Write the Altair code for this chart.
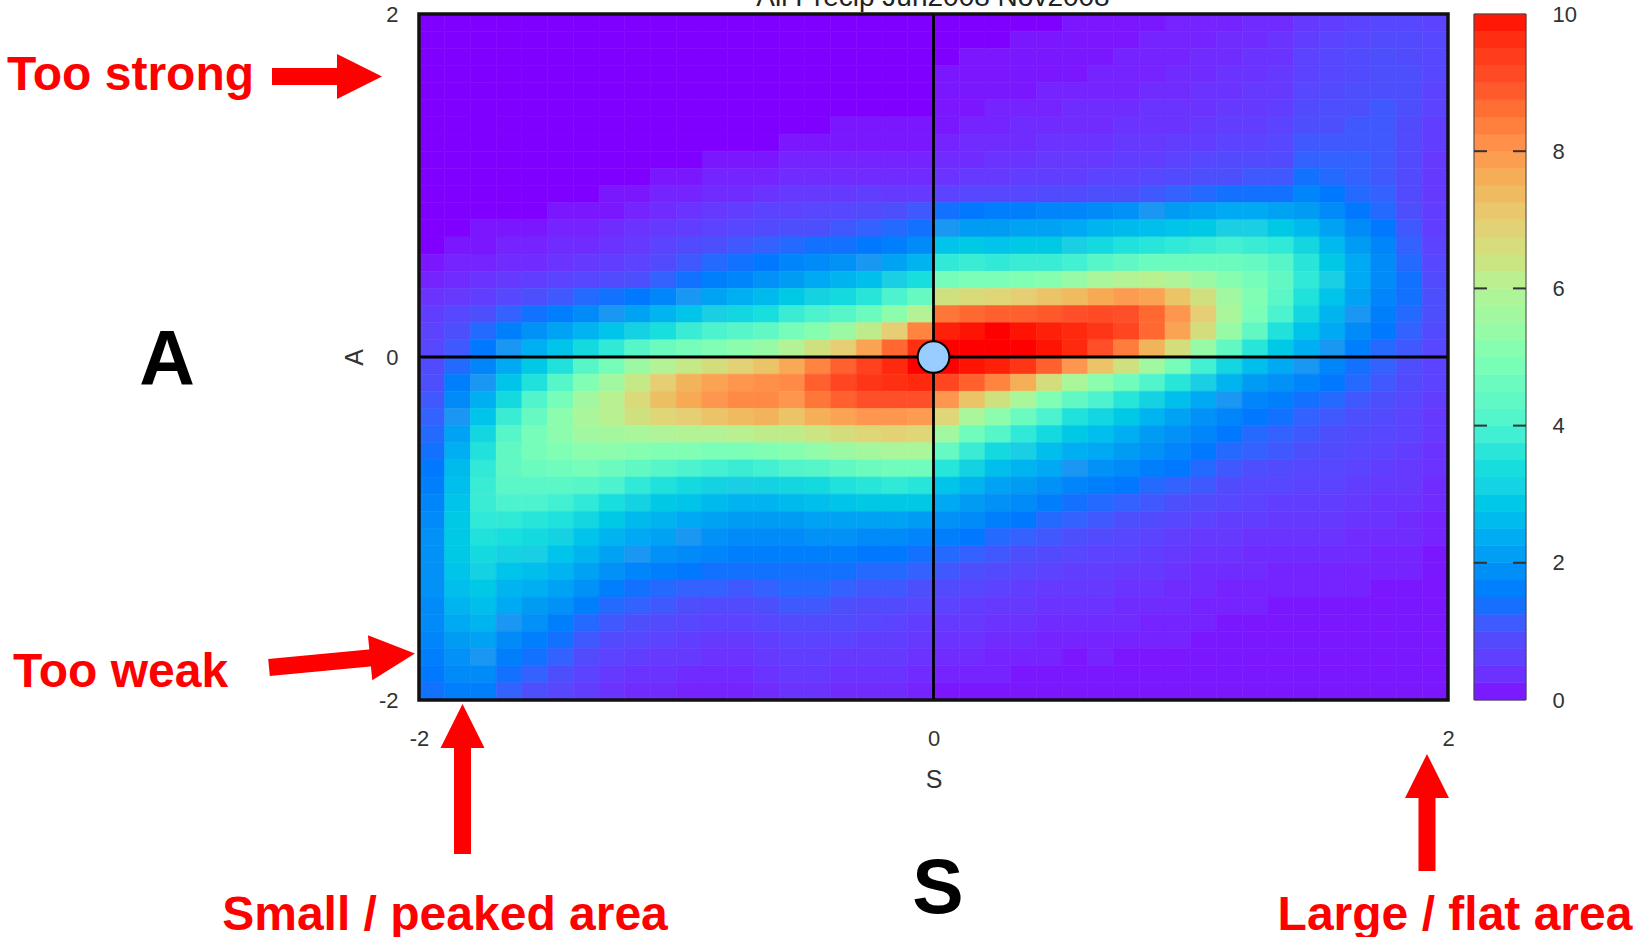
import altair as alt
import pandas as pd

# Grid edges of the S (structure) and A (amplitude) bins, 0.1 wide
S_EDGES = [round(-2 + 0.1 * k, 1) for k in range(41)]
A_EDGES = [round(2 - 0.1 * k, 1) for k in range(41)]

# Frequency per bin, one list per S column (S = -1.95 ... 1.95).
# upper_half: A = 1.95 down to 0.05 ; lower_half: A = -0.05 down to -1.95
upper_half = [
    [0,0,0,0,0,0,0,0,0,0,0,0,0,0,0.1,0.2,0.4,0.6,0.7,0.8],
    [0,0,0,0,0,0,0,0,0,0,0,0,0,0.1,0.2,0.3,0.5,0.8,1.0,1.1],
    [0,0,0,0,0,0,0,0,0,0,0,0,0.1,0.1,0.2,0.4,0.6,1.0,1.3,1.5],
    [0,0,0,0,0,0,0,0,0,0,0,0,0.1,0.2,0.3,0.5,0.8,1.2,1.6,2.0],
    [0,0,0,0,0,0,0,0,0,0,0,0,0.1,0.2,0.3,0.6,1.0,1.4,1.9,2.4],
    [0,0,0,0,0,0,0,0,0,0,0,0.1,0.2,0.3,0.4,0.7,1.1,1.6,2.2,2.8],
    [0,0,0,0,0,0,0,0,0,0,0,0.1,0.2,0.3,0.5,0.8,1.3,1.8,2.5,3.3],
    [0,0,0,0,0,0,0,0,0,0,0.1,0.1,0.3,0.4,0.6,0.9,1.4,2.0,2.8,3.7],
    [0,0,0,0,0,0,0,0,0,0,0.1,0.2,0.4,0.5,0.7,1.0,1.5,2.2,3.1,4.2],
    [0,0,0,0,0,0,0,0,0,0.1,0.2,0.3,0.5,0.7,0.9,1.2,1.7,2.5,3.4,4.6],
    [0,0,0,0,0,0,0,0,0,0.1,0.2,0.4,0.6,0.9,1.1,1.4,2.0,2.8,3.8,4.8],
    [0,0,0,0,0,0,0,0,0.1,0.2,0.3,0.5,0.7,1.0,1.3,1.6,2.2,3.0,4.0,5.0],
    [0,0,0,0,0,0,0,0,0.1,0.2,0.3,0.6,0.8,1.1,1.4,1.7,2.4,3.2,4.2,5.2],
    [0,0,0,0,0,0,0,0,0.1,0.2,0.4,0.7,0.9,1.2,1.5,1.9,2.6,3.4,4.4,5.4],
    [0,0,0,0,0,0,0,0.1,0.2,0.3,0.5,0.7,1.0,1.3,1.7,2.1,2.9,3.8,4.8,6.0],
    [0,0,0,0,0,0,0,0.1,0.2,0.3,0.5,0.8,1.0,1.4,1.8,2.3,3.1,4.0,5.1,6.5],
    [0,0,0,0,0,0,0.1,0.1,0.2,0.3,0.5,0.8,1.1,1.4,1.9,2.5,3.3,4.2,5.5,7.0],
    [0,0,0,0,0,0,0.1,0.1,0.2,0.3,0.6,0.9,1.2,1.5,2.0,2.7,3.6,4.6,6.2,7.8],
    [0,0,0,0,0,0,0.1,0.1,0.2,0.3,0.5,1.0,1.3,1.6,2.2,3.0,4.0,5.2,7.0,8.7],
    [0,0,0,0,0,0,0.1,0.1,0.2,0.3,0.5,1.1,1.4,1.8,2.5,3.4,4.5,6.0,8.3,9.6],
    [0,0,0,0.1,0.1,0.1,0.1,0.2,0.3,0.4,0.7,1.4,2.0,2.8,3.7,4.8,6.5,8.5,9.8,10.0],
    [0,0,0.1,0.1,0.1,0.1,0.2,0.3,0.3,0.5,0.8,1.5,2.1,2.9,3.8,4.9,6.7,8.7,9.9,10.0],
    [0,0,0.1,0.1,0.1,0.2,0.2,0.3,0.4,0.5,0.8,1.6,2.1,2.8,3.7,4.9,6.8,8.8,10.0,10.0],
    [0,0.1,0.1,0.1,0.1,0.2,0.3,0.3,0.4,0.6,0.8,1.6,2.2,2.9,3.8,5.0,7.0,8.8,9.9,10.0],
    [0,0.1,0.1,0.1,0.2,0.2,0.3,0.4,0.5,0.6,0.9,1.7,2.2,2.9,3.8,5.1,7.2,8.9,9.8,9.9],
    [0.1,0.1,0.1,0.1,0.2,0.3,0.3,0.4,0.5,0.6,0.9,1.7,2.3,3.0,3.9,5.4,7.4,9.0,9.7,9.7],
    [0.1,0.1,0.1,0.2,0.2,0.3,0.3,0.4,0.5,0.7,1.0,1.8,2.5,3.3,4.2,5.8,7.7,9.1,9.5,9.0],
    [0.1,0.1,0.2,0.2,0.2,0.3,0.4,0.5,0.6,0.7,1.0,1.9,2.6,3.5,4.4,6.0,7.9,9.0,9.2,8.4],
    [0.1,0.2,0.2,0.2,0.3,0.4,0.4,0.5,0.6,0.8,1.1,2.0,2.7,3.6,4.6,6.1,7.8,8.7,8.7,7.5],
    [0.2,0.2,0.2,0.3,0.3,0.4,0.4,0.6,0.7,0.9,1.2,2.1,2.8,3.7,4.6,5.9,7.2,8.0,7.8,6.6],
    [0.2,0.2,0.3,0.3,0.4,0.4,0.5,0.6,0.8,1.0,1.3,2.2,2.9,3.8,4.6,5.5,6.5,7.0,6.6,5.4],
    [0.2,0.3,0.3,0.4,0.4,0.5,0.6,0.7,0.9,1.0,1.4,2.3,3.0,3.9,4.6,5.1,5.6,5.8,5.4,4.4],
    [0.3,0.3,0.4,0.4,0.5,0.5,0.6,0.7,0.9,1.1,1.4,2.3,3.0,3.8,4.5,4.8,5.0,4.9,4.4,3.6],
    [0.3,0.4,0.4,0.5,0.5,0.6,0.7,0.8,0.9,1.1,1.4,2.2,2.9,3.7,4.2,4.4,4.3,4.0,3.5,2.9],
    [0.5,0.6,0.7,0.7,0.8,0.9,1.0,1.1,1.2,1.4,1.7,2.1,2.6,3.2,3.6,3.7,3.5,3.2,2.8,2.4],
    [0.6,0.7,0.8,0.8,0.9,1.0,1.0,1.1,1.2,1.3,1.5,1.8,2.2,2.6,2.9,3.0,2.8,2.5,2.3,2.0],
    [0.7,0.8,0.9,0.9,1.0,1.0,1.1,1.1,1.2,1.2,1.3,1.5,1.8,2.1,2.3,2.3,2.2,2.0,1.8,1.6],
    [0.8,0.9,1.0,1.0,1.0,1.1,1.1,1.1,1.1,1.1,1.2,1.3,1.5,1.7,1.8,1.8,1.7,1.6,1.5,1.3],
    [0.8,0.9,0.9,1.0,1.0,1.0,0.9,0.9,0.9,0.9,0.9,1.0,1.1,1.2,1.3,1.4,1.4,1.3,1.2,1.1],
    [0.7,0.8,0.8,0.8,0.7,0.7,0.6,0.6,0.5,0.5,0.5,0.6,0.6,0.7,0.8,0.9,1.0,1.0,0.9,0.8],
]
lower_half = [
    [0.9,1.0,1.1,1.2,1.3,1.4,1.5,1.6,1.7,1.8,1.9,1.9,1.9,1.9,1.8,1.8,1.7,1.6,1.5,1.4],
    [1.3,1.6,1.8,2.0,2.2,2.4,2.6,2.7,2.8,2.9,2.9,2.9,2.8,2.7,2.5,2.3,2.1,1.9,1.8,1.6],
    [1.7,2.0,2.4,2.8,3.2,3.5,3.7,3.8,3.8,3.7,3.5,3.3,3.1,2.9,2.7,2.5,2.2,2.0,1.8,1.6],
    [2.3,2.8,3.3,3.8,4.2,4.4,4.4,4.3,4.0,3.7,3.4,3.1,2.8,2.5,2.3,2.0,1.8,1.6,1.4,1.2],
    [2.9,3.5,4.1,4.5,4.8,4.8,4.6,4.3,4.0,3.6,3.3,3.0,2.7,2.4,2.1,1.9,1.6,1.4,1.2,1.0],
    [3.5,4.2,4.8,5.2,5.2,5.0,4.7,4.3,3.9,3.5,3.1,2.8,2.5,2.2,1.9,1.6,1.4,1.2,1.0,0.8],
    [4.2,5.0,5.6,5.8,5.6,5.2,4.8,4.2,3.7,3.2,2.8,2.5,2.2,1.9,1.6,1.3,1.1,0.9,0.7,0.6],
    [4.8,5.6,6.1,6.1,5.7,5.2,4.6,4.0,3.4,2.9,2.5,2.2,1.9,1.6,1.3,1.1,0.9,0.7,0.5,0.4],
    [5.5,6.3,6.7,6.5,5.8,5.1,4.4,3.7,3.1,2.6,2.3,2.0,1.7,1.4,1.2,1.0,0.8,0.6,0.4,0.3],
    [6.0,7.0,7.3,6.8,5.9,5.0,4.2,3.5,2.9,2.5,2.2,1.9,1.6,1.3,1.1,0.9,0.7,0.5,0.4,0.3],
    [6.3,7.5,7.7,7.0,6.0,5.0,4.0,3.3,2.8,2.3,2.0,1.8,1.5,1.2,1.0,0.8,0.6,0.5,0.3,0.2],
    [6.6,7.8,8.0,7.2,6.0,4.9,3.9,3.1,2.6,2.2,1.9,1.7,1.4,1.2,0.9,0.7,0.5,0.4,0.3,0.2],
    [6.9,8.0,8.2,7.4,6.1,4.9,3.8,3.0,2.5,2.1,1.8,1.6,1.4,1.1,0.9,0.7,0.5,0.4,0.3,0.2],
    [7.2,8.1,8.2,7.5,6.2,5.0,3.9,3.1,2.5,2.1,1.8,1.6,1.4,1.2,1.0,0.8,0.6,0.5,0.4,0.3],
    [7.7,8.2,8.0,7.2,6.2,5.1,4.1,3.2,2.6,2.1,1.8,1.6,1.4,1.3,1.1,0.9,0.7,0.6,0.5,0.4],
    [8.3,8.8,8.5,7.6,6.4,5.3,4.2,3.3,2.7,2.2,1.9,1.6,1.4,1.3,1.1,0.9,0.7,0.6,0.5,0.4],
    [8.8,9.2,8.8,7.8,6.6,5.5,4.4,3.5,2.8,2.2,1.9,1.6,1.4,1.2,1.0,0.9,0.7,0.5,0.4,0.3],
    [9.3,9.5,9.0,8.0,6.8,5.7,4.6,3.6,2.9,2.2,1.8,1.5,1.3,1.1,0.9,0.8,0.6,0.5,0.4,0.3],
    [9.7,9.6,9.0,8.0,6.9,5.8,4.7,3.7,2.9,2.2,1.8,1.5,1.3,1.1,0.9,0.7,0.6,0.5,0.4,0.3],
    [10.0,9.7,9.0,7.9,6.8,5.8,4.7,3.6,2.9,2.1,1.7,1.4,1.2,1.0,0.8,0.6,0.5,0.4,0.3,0.2],
    [10.0,9.2,8.0,6.8,5.6,4.5,3.6,2.8,2.3,1.9,1.6,1.3,1.1,0.9,0.7,0.5,0.4,0.3,0.2,0.1],
    [9.9,8.8,7.2,5.8,4.7,3.8,3.1,2.5,2.1,1.8,1.5,1.2,1.0,0.8,0.6,0.5,0.4,0.3,0.2,0.1],
    [9.8,8.3,6.5,5.2,4.2,3.3,2.7,2.2,1.9,1.6,1.3,1.1,0.9,0.7,0.5,0.4,0.3,0.2,0.2,0.1],
    [9.5,7.6,5.8,4.6,3.7,3.0,2.5,2.1,1.8,1.5,1.2,1.0,0.8,0.6,0.5,0.4,0.3,0.2,0.1,0.1],
    [8.8,6.6,5.0,4.0,3.3,2.7,2.3,1.9,1.6,1.3,1.1,0.9,0.7,0.5,0.4,0.3,0.2,0.2,0.1,0.1],
    [8.0,5.8,4.4,3.5,2.9,2.4,2.0,1.7,1.4,1.2,1.0,0.8,0.6,0.5,0.4,0.3,0.2,0.1,0.1,0.1],
    [7.2,5.2,4.0,3.2,2.7,2.3,1.9,1.6,1.3,1.1,0.9,0.7,0.6,0.5,0.4,0.3,0.2,0.2,0.1,0.1],
    [6.5,4.7,3.6,2.9,2.4,2.1,1.8,1.5,1.2,1.0,0.8,0.7,0.5,0.4,0.3,0.3,0.2,0.1,0.1,0.1],
    [5.6,4.1,3.1,2.5,2.1,1.9,1.6,1.3,1.1,0.9,0.7,0.6,0.5,0.4,0.3,0.2,0.2,0.1,0.1,0.1],
    [4.8,3.6,2.7,2.2,1.9,1.7,1.5,1.2,1.0,0.8,0.6,0.5,0.4,0.3,0.3,0.2,0.2,0.1,0.1,0.1],
    [3.9,3.0,2.3,1.9,1.7,1.5,1.3,1.1,0.9,0.7,0.5,0.4,0.3,0.3,0.2,0.2,0.1,0.1,0.1,0.1],
    [3.2,2.5,2.0,1.7,1.5,1.3,1.1,0.9,0.8,0.6,0.5,0.4,0.3,0.2,0.2,0.1,0.1,0.1,0.1,0.1],
    [2.7,2.1,1.7,1.5,1.3,1.2,1.0,0.8,0.7,0.6,0.4,0.3,0.3,0.2,0.2,0.1,0.1,0.1,0.1,0.1],
    [2.3,1.9,1.6,1.4,1.2,1.1,0.9,0.8,0.6,0.5,0.4,0.3,0.2,0.2,0.1,0.1,0.1,0.1,0.1,0.1],
    [2.0,1.7,1.4,1.2,1.1,1.0,0.8,0.7,0.6,0.5,0.4,0.3,0.2,0.2,0.1,0.1,0.1,0.1,0.1,0.1],
    [1.7,1.5,1.3,1.1,1.0,0.9,0.8,0.7,0.6,0.5,0.4,0.3,0.2,0.2,0.1,0.1,0.1,0.1,0.1,0.1],
    [1.4,1.3,1.1,1.0,0.9,0.8,0.7,0.6,0.5,0.4,0.3,0.3,0.2,0.2,0.1,0.1,0.1,0.1,0.1,0.1],
    [1.2,1.1,1.0,0.9,0.8,0.7,0.6,0.5,0.4,0.4,0.3,0.2,0.2,0.1,0.1,0.1,0.1,0.1,0.1,0.1],
    [1.0,0.9,0.8,0.7,0.7,0.6,0.5,0.5,0.4,0.3,0.3,0.2,0.2,0.1,0.1,0.1,0.1,0.1,0.1,0.1],
    [0.7,0.7,0.6,0.5,0.5,0.4,0.4,0.3,0.3,0.2,0.2,0.1,0.1,0.1,0.1,0.1,0.1,0.1,0.1,0.1],
]

AXIS_TICKS = [-2, 0, 2]
CBAR_LABELS = [0, 2, 4, 6, 8, 10]
CBAR_MARKS = [2, 4, 6, 8]
CBAR_LEVELS = [0.25 * k for k in range(40)]

# rainbow colour map, 0 -> 10
RAINBOW = ["#8000ff", "#4d4ffc", "#1a96f3", "#1acee3", "#4df3ce", "#80ffb4",
           "#b3f396", "#e6ce74", "#ff964f", "#ff4f28", "#ff0000"]

assert len(upper_half) == 40 and len(lower_half) == 40
cells = []
for i in range(40):
    col = upper_half[i] + lower_half[i]
    assert len(col) == 40, (i, len(col))
    for r, v in enumerate(col):
        cells.append({"s0": S_EDGES[i], "s1": S_EDGES[i + 1],
                      "a0": A_EDGES[r + 1], "a1": A_EDGES[r], "freq": v})
cells = pd.DataFrame(cells)
cbar = pd.DataFrame({"lo": CBAR_LEVELS,
                     "hi": [v + 0.25 for v in CBAR_LEVELS],
                     "mid": [v + 0.125 for v in CBAR_LEVELS]})

W, H = 1029, 686
FONT = "Liberation Sans"
GREY = "#333333"
RED = "#ff0000"
PLAIN = "'' + datum.value"

cscale = alt.Scale(domain=list(range(11)), range=RAINBOW, clamp=True)
sx = alt.Scale(domain=[-2, 2], nice=False, zero=False)
sy = alt.Scale(domain=[-2, 2], nice=False, zero=False)

heat = alt.Chart(cells).mark_rect(strokeWidth=0.6).encode(
    x=alt.X("s0:Q", scale=sx,
            axis=alt.Axis(values=AXIS_TICKS, title="S", ticks=False, domain=False,
                          grid=False, labelPadding=28, labelFontSize=22, labelExpr=PLAIN,
                          labelFlush=False, labelFont=FONT, labelColor=GREY,
                          titleFont=FONT, titleFontSize=25, titleFontWeight="normal",
                          titleColor=GREY, titleY=79, titleBaseline="middle")),
    x2="s1:Q",
    y=alt.Y("a0:Q", scale=sy,
            axis=alt.Axis(values=AXIS_TICKS, title="A", ticks=False, domain=False,
                          grid=False, labelPadding=21, labelFontSize=22, labelExpr=PLAIN,
                          labelFlush=False, labelFont=FONT, labelColor=GREY,
                          titleFont=FONT, titleFontSize=25, titleFontWeight="normal",
                          titleColor=GREY, titleX=-65, titleY=H / 2,
                          titleBaseline="middle", titleAngle=270)),
    y2="a1:Q",
    color=alt.Color("freq:Q", scale=cscale, legend=None),
    stroke=alt.Stroke("freq:Q", scale=cscale, legend=None),
)

one = alt.InlineData(values=[{}])
zero_v = alt.Chart(one).mark_rule(color="black", strokeWidth=2.8).encode(x=alt.datum(0, scale=sx))
zero_h = alt.Chart(one).mark_rule(color="black", strokeWidth=2.8).encode(y=alt.datum(0, scale=sy))
frame = alt.Chart(one).mark_rect(fill=None, stroke="#111111", strokeWidth=3.5).encode(
    x=alt.datum(-2, scale=sx), x2=alt.datum(2),
    y=alt.datum(-2, scale=sy), y2=alt.datum(2))
perfect = alt.Chart(one).mark_circle(size=1000, color="#99ccff", opacity=1,
                                     stroke="black", strokeWidth=2).encode(
    x=alt.datum(0, scale=sx), y=alt.datum(0, scale=sy))

main = alt.layer(heat, zero_v, zero_h, frame, perfect)

# colour bar on the right
cb_x0, cb_x1 = 1055, 1107
cy = alt.Scale(domain=[0, 10], nice=False, zero=False)
bands = alt.Chart(cbar).mark_rect(strokeWidth=0.6).encode(
    x=alt.value(cb_x0), x2=alt.value(cb_x1),
    y=alt.Y("lo:Q", scale=cy,
            axis=alt.Axis(orient="right", values=CBAR_LABELS, title=None, ticks=False,
                          domain=False, grid=False, offset=cb_x1 - W, labelPadding=26,
                          labelAlign="left", labelFontSize=22, labelFont=FONT,
                          labelFlush=False, labelExpr=PLAIN, labelColor=GREY)),
    y2="hi:Q",
    color=alt.Color("mid:Q", scale=cscale, legend=None),
    stroke=alt.Stroke("mid:Q", scale=cscale, legend=None),
)
cb_frame = alt.Chart(one).mark_rect(fill=None, stroke="#444444", strokeWidth=1).encode(
    x=alt.value(cb_x0), x2=alt.value(cb_x1),
    y=alt.datum(0, scale=cy), y2=alt.datum(10))
marks_df = pd.DataFrame({"v": CBAR_MARKS})
cb_tick_l = alt.Chart(marks_df).mark_rule(color="#333333", strokeWidth=2).encode(
    x=alt.value(cb_x0), x2=alt.value(cb_x0 + 13), y=alt.Y("v:Q", scale=cy))
cb_tick_r = alt.Chart(marks_df).mark_rule(color="#333333", strokeWidth=2).encode(
    x=alt.value(cb_x1 - 13), x2=alt.value(cb_x1), y=alt.Y("v:Q", scale=cy))
colorbar = alt.layer(bands, cb_frame, cb_tick_l, cb_tick_r)


def label(txt, x, y, size, color, weight="bold", align="center"):
    return alt.Chart(one).mark_text(text=txt, font=FONT, fontSize=size, fontWeight=weight,
                                    color=color, align=align, baseline="alphabetic").encode(
        x=alt.value(x), y=alt.value(y))


def shaft(x0, y0, x1, y1):
    return alt.Chart(one).mark_rule(color=RED, strokeWidth=17, strokeCap="butt").encode(
        x=alt.value(x0), y=alt.value(y0), x2=alt.value(x1), y2=alt.value(y1))


def head(x, y, angle, size=2025):
    return alt.Chart(one).mark_point(shape="M-1,-1L1,0L-1,1Z", filled=True, color=RED,
                                     opacity=1, size=size, angle=angle).encode(
        x=alt.value(x), y=alt.value(y))


notes = [
    label("All Precip Jun2008 Nov2008", 514, -8, 28, "#222222", weight="normal"),
    label("Too strong", -412, 76, 48, RED, align="left"),
    shaft(-147, 62.5, -80, 62.5),
    head(-59.5, 62.5, 0),
    label("Too weak", -406, 673, 48, RED, align="left"),
    shaft(-150, 653.5, -47, 643.8),
    head(-26.5, 641.6, 354.5),
    label("A", -252, 371, 77, "black"),
    label("S", 519, 899, 77, "black"),
    shaft(43.5, 734, 43.5, 840),
    head(43.5, 712, 270, 1936),
    shaft(1008, 784, 1008, 857),
    head(1008, 762, 270, 1936),
    label("Small / peaked area", 26, 916, 48, RED),
    label("Large / flat area", 1036, 916, 48, RED),
]

chart = alt.layer(main, colorbar, *notes).resolve_scale(
    y="independent"
).properties(
    width=W, height=H,
    autosize=alt.AutoSizeParams(type="none"),
    padding={"left": 419, "top": 14, "right": 185, "bottom": 237},
    background="white",
).configure_view(stroke=None)

chart.save("out.html", embed_options={"renderer": "svg", "actions": False})
